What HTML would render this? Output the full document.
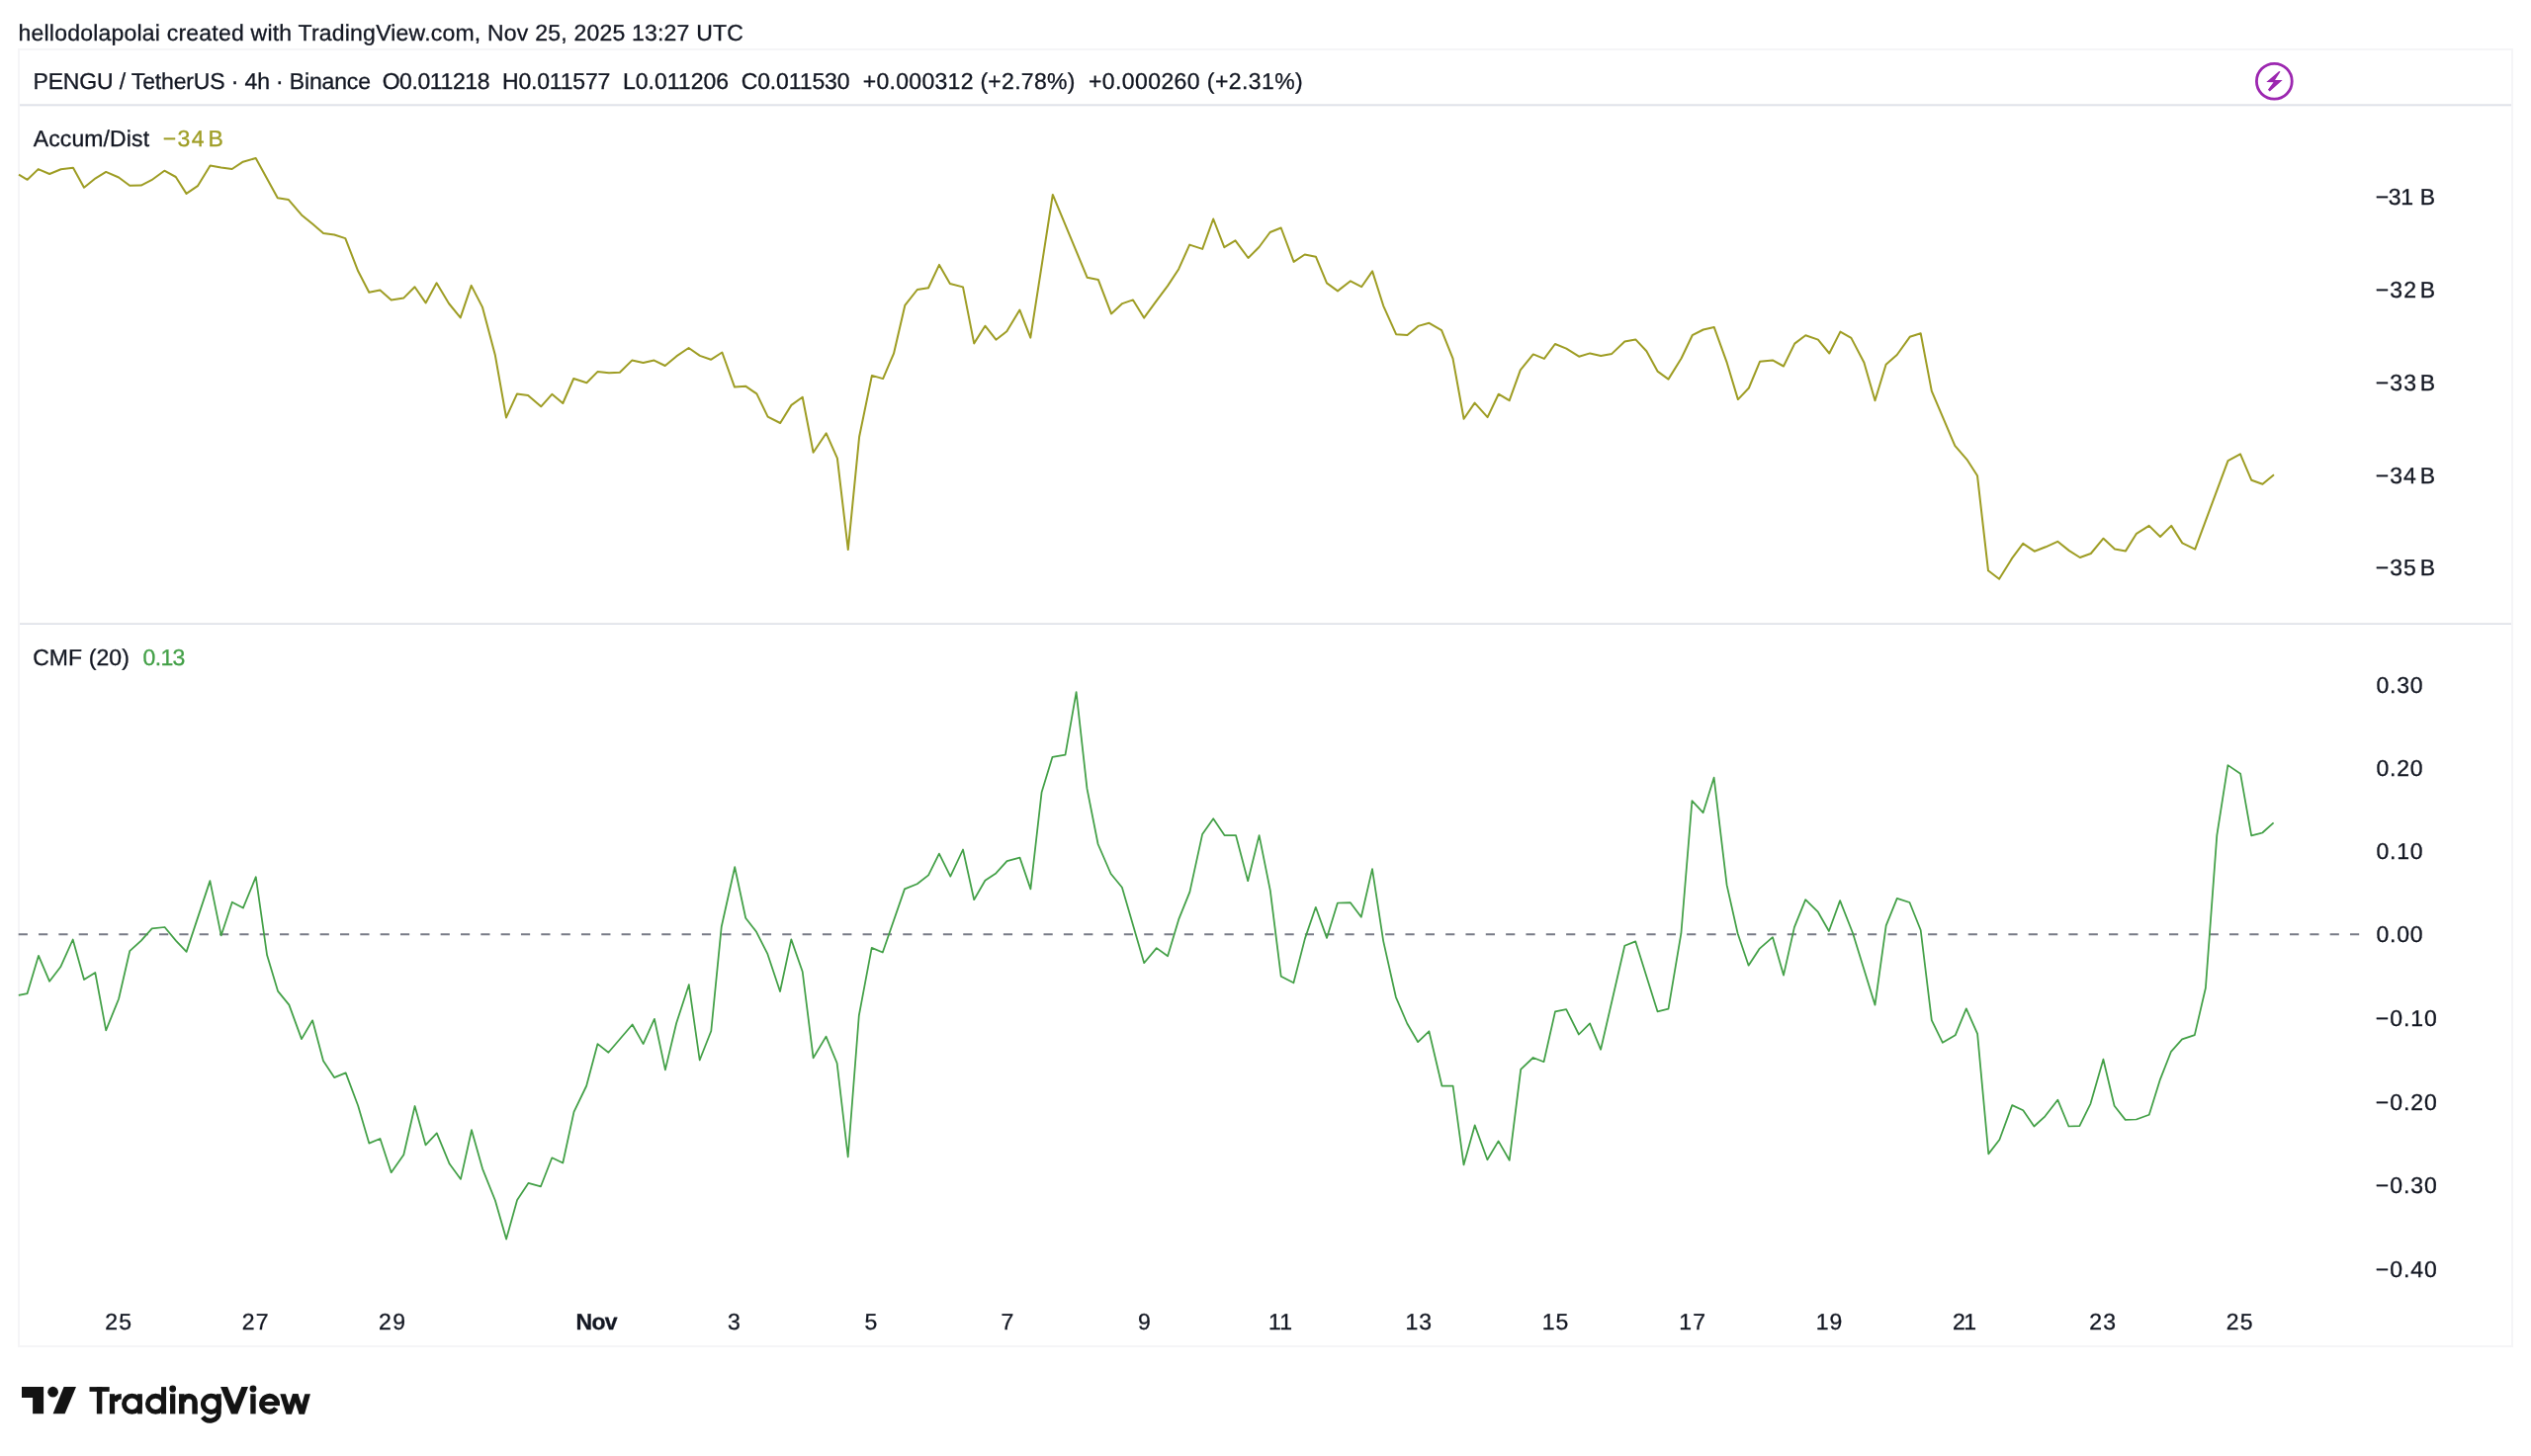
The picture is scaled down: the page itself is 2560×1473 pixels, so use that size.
<!DOCTYPE html>
<html><head><meta charset="utf-8"><title>PENGU / TetherUS chart</title>
<style>
html,body{margin:0;padding:0;background:#fff;}
body{width:2560px;height:1473px;position:relative;overflow:hidden;font-family:"Liberation Sans",sans-serif;}
.t{position:absolute;line-height:1;white-space:pre;text-rendering:geometricPrecision;-webkit-text-stroke:0.3px currentColor;}
#tx{position:absolute;left:0;top:0;width:2560px;height:1473px;will-change:transform;}
.box{position:absolute;left:18px;top:49px;width:2520px;height:1310px;border:2px solid #f5f5f7;}
.hl{position:absolute;left:20px;width:2520px;height:2px;background:#e0e3eb;}
svg{position:absolute;left:0;top:0;}
</style></head><body>
<div class="box"></div>
<div class="hl" style="top:105px;height:1px;background:#e9eaee"></div>
<div class="hl" style="top:106px;height:1px;background:#dfe2ea"></div>
<div class="hl" style="top:107px;height:1px;background:#f6f6f7"></div>
<div class="hl" style="top:630px;height:1px;background:#e9eaed"></div>
<div class="hl" style="top:631px;height:1px;background:#dfe2ea"></div>

<svg width="2560" height="1473" viewBox="0 0 2560 1473">
<line x1="18.7" y1="945.35" x2="2388" y2="945.35" stroke="#787b86" stroke-width="2" stroke-dasharray="9.2 11.13"/>
<polyline fill="none" stroke="#9e9d24" stroke-width="2" stroke-linejoin="round" points="19.0,176.7 27.7,181.8 38.7,171.1 50.1,176.0 61.6,171.3 74.0,169.7 85.0,189.7 96.7,180.3 107.2,173.9 120.1,179.5 131.2,187.8 142.7,187.6 153.3,182.2 166.3,172.7 177.8,179.0 188.5,195.9 199.9,188.2 212.6,167.5 223.6,169.6 234.7,171.0 245.8,163.7 258.7,160.0 280.8,200.2 291.9,202.1 305.0,217.4 316.1,226.6 327.1,235.9 338.2,237.5 349.3,241.1 362.2,274.3 373.3,295.8 384.4,293.6 395.7,303.4 408.4,301.4 419.5,290.3 430.6,306.4 441.6,286.3 454.0,307.0 465.7,321.4 476.7,288.9 487.9,310.6 500.9,359.6 512.0,422.4 523.0,398.4 534.1,399.9 547.2,411.3 558.3,398.8 569.3,408.0 580.2,383.0 593.4,387.3 604.4,376.1 616.0,377.3 626.9,376.7 639.2,364.6 650.6,367.0 661.6,364.6 672.7,370.0 684.2,360.4 696.6,352.0 707.9,359.9 719.0,363.8 730.4,356.5 743.0,391.6 754.1,390.7 765.4,398.4 776.6,421.6 789.2,428.0 800.4,409.9 811.7,401.7 822.6,457.8 835.7,438.3 846.9,463.7 857.8,556.1 869.1,442.0 881.9,379.9 893.1,383.1 904.0,357.7 915.3,308.9 927.8,293.0 939.0,291.2 950.0,267.9 960.9,287.0 974.0,290.4 985.2,347.4 996.4,329.7 1007.4,343.7 1018.3,335.3 1031.4,313.6 1042.3,341.6 1064.8,196.9 1099.7,280.8 1110.9,283.1 1124.0,317.4 1135.2,307.1 1146.0,303.4 1157.1,321.6 1168.4,306.1 1181.1,289.1 1192.2,272.2 1203.2,247.6 1216.2,251.9 1227.2,221.5 1238.3,250.2 1249.5,243.4 1262.5,261.0 1273.5,250.0 1284.6,235.0 1295.7,230.5 1308.6,264.9 1319.7,257.5 1330.9,259.7 1342.0,286.4 1353.0,294.4 1366.0,284.3 1377.1,290.2 1388.1,274.4 1399.2,309.3 1412.1,338.2 1423.4,339.1 1434.4,329.9 1445.5,326.8 1458.1,334.1 1469.5,362.6 1480.6,423.7 1491.6,407.6 1504.6,422.1 1515.7,398.7 1526.7,405.2 1537.8,374.4 1550.8,358.4 1561.9,362.9 1572.9,348.0 1584.3,352.7 1597.1,360.7 1608.2,357.4 1619.2,359.9 1630.3,357.9 1643.3,345.5 1654.3,343.4 1665.4,355.3 1676.5,375.6 1687.5,383.6 1700.6,362.5 1711.7,339.2 1722.8,333.5 1733.8,331.1 1746.8,367.2 1757.9,404.1 1768.9,392.5 1780.0,365.8 1792.9,364.4 1804.0,370.5 1815.2,347.6 1826.3,339.3 1838.9,343.6 1850.3,357.5 1861.4,335.6 1872.4,341.9 1885.4,366.7 1896.5,405.2 1907.6,368.7 1918.7,359.0 1931.7,340.8 1942.7,337.3 1953.8,395.6 1977.3,450.8 1989.4,464.8 2000.0,481.2 2011.0,577.3 2022.1,585.8 2035.2,564.6 2046.2,549.9 2057.7,557.7 2069.2,553.3 2081.2,547.8 2092.9,557.1 2103.8,564.0 2114.8,560.0 2127.5,544.7 2139.0,555.6 2150.0,557.4 2161.0,539.8 2173.7,531.9 2185.0,543.0 2196.2,531.9 2207.3,549.4 2220.2,555.6 2253.5,466.2 2266.0,459.4 2277.3,485.8 2288.5,489.8 2300.0,480.2"/>
<polyline fill="none" stroke="#43a047" stroke-width="1.75" stroke-linejoin="round" points="18.8,1006.9 27.6,1005.1 39.0,966.8 50.1,992.8 61.2,978.3 73.7,950.5 85.0,991.1 96.3,984.0 107.2,1042.4 120.1,1010.5 131.2,962.2 142.8,951.6 153.7,939.3 166.6,938.0 177.9,951.6 188.6,962.9 212.4,891.1 223.7,946.4 234.8,912.7 245.9,918.6 258.8,887.2 270.1,966.3 281.0,1002.6 292.4,1016.6 305.0,1051.1 316.1,1032.3 327.0,1073.3 338.1,1090.1 349.7,1085.4 362.2,1118.8 373.3,1156.6 384.5,1152.0 395.7,1186.2 408.3,1168.3 419.6,1119.0 430.5,1158.3 441.8,1146.4 454.7,1177.6 466.0,1192.9 477.0,1143.2 488.0,1182.3 500.9,1214.5 512.1,1253.6 523.1,1213.9 534.4,1196.9 547.0,1200.3 558.3,1171.3 569.3,1176.5 580.5,1124.9 593.2,1098.5 604.5,1056.1 615.4,1064.8 639.6,1036.5 650.6,1056.1 661.9,1030.8 672.9,1082.4 684.1,1035.3 696.8,996.2 707.7,1072.5 719.3,1043.0 729.7,937.8 743.2,877.2 754.2,928.7 765.1,942.8 776.4,965.2 789.0,1003.0 800.3,950.4 811.7,983.0 822.6,1070.3 835.5,1048.6 846.6,1075.5 857.7,1170.5 868.8,1027.5 881.7,958.9 892.8,963.5 915.0,899.4 927.7,894.2 939.1,885.4 949.9,863.6 961.3,886.7 974.0,859.5 985.2,910.2 996.4,890.7 1007.4,883.4 1018.5,871.1 1031.5,867.6 1042.4,899.4 1053.6,801.4 1064.5,765.8 1077.5,763.7 1088.6,700.1 1099.5,797.9 1110.6,854.0 1123.6,884.0 1134.9,897.8 1157.2,974.2 1169.8,959.1 1181.1,967.3 1192.2,930.2 1203.4,902.4 1216.1,844.1 1227.2,828.2 1238.5,845.0 1250.0,845.0 1262.2,891.2 1273.6,845.1 1284.8,900.8 1295.7,987.7 1308.4,994.3 1319.9,949.6 1330.8,917.8 1342.0,948.9 1352.9,913.5 1365.9,913.2 1376.8,927.8 1388.0,879.1 1399.2,952.1 1411.9,1008.8 1423.3,1035.5 1434.2,1054.2 1445.4,1043.3 1458.4,1098.5 1469.6,1098.5 1480.5,1178.4 1491.7,1138.4 1504.4,1173.3 1515.6,1154.4 1526.7,1173.8 1538.2,1081.8 1550.7,1070.0 1561.5,1074.2 1573.0,1023.4 1584.2,1021.1 1596.9,1046.5 1608.1,1035.4 1619.1,1061.8 1643.3,956.8 1654.3,952.4 1676.5,1023.3 1687.5,1020.7 1700.4,944.2 1711.4,810.2 1722.6,822.2 1733.6,786.7 1746.6,895.4 1757.6,944.2 1768.6,976.7 1779.8,959.6 1793.0,948.2 1804.0,986.6 1814.9,938.1 1826.2,910.2 1838.9,922.7 1849.9,942.0 1861.1,911.1 1874.1,944.2 1896.5,1016.7 1907.7,936.3 1918.8,908.9 1931.5,913.0 1942.7,941.0 1953.8,1032.1 1964.9,1054.8 1977.7,1047.3 1988.8,1020.4 2000.1,1045.9 2011.3,1167.4 2022.4,1153.0 2035.2,1118.1 2046.3,1123.3 2057.4,1139.5 2068.5,1129.3 2081.3,1112.7 2092.4,1139.5 2103.4,1139.2 2114.5,1116.6 2127.4,1071.7 2138.6,1118.8 2149.7,1132.9 2160.8,1132.5 2173.8,1127.8 2184.9,1092.1 2196.0,1063.8 2207.1,1051.4 2219.8,1047.1 2230.9,999.5 2242.3,845.1 2253.4,774.1 2266.1,782.7 2277.2,845.4 2288.3,842.5 2299.6,832.4"/>
<circle cx="2300.33" cy="82.24" r="17.9" fill="none" stroke="#9c27b0" stroke-width="2.8"/>
<path d="M2305.2 72.1 L2292.3 82.95 L2299.55 83.15 L2293.9 90.8 L2295.8 92.5 L2308.65 81.1 L2301.05 80.95 L2306.5 72.6 Z" fill="#9c27b0"/>
<path d="M22 1403.1H44.1V1430.3H33.1V1414.1H22Z" fill="#131313"/>
<circle cx="53.6" cy="1408.2" r="5.35" fill="#131313"/>
<path d="M64.6 1403.1H77L65.6 1430.3H53.6Z" fill="#131313"/>
<g id="wordmark" aria-label="TradingView"><rect x="90.50" y="1403.10" width="20.16" height="4.75" fill="#131313"/>
<rect x="97.85" y="1403.10" width="5.46" height="27.28" fill="#131313"/>
<rect x="110.89" y="1410.22" width="5.22" height="20.16" fill="#131313"/>
<path d="M115.9 1417.6 Q117.2 1412.7 122.75 1412.7" fill="none" stroke="#131313" stroke-width="5.4"/>
<circle cx="133.55" cy="1420.28" r="8.08" fill="none" stroke="#131313" stroke-width="4.80"/>
<rect x="139.10" y="1410.22" width="4.75" height="20.16" fill="#131313"/>
<circle cx="157.45" cy="1420.35" r="8.08" fill="none" stroke="#131313" stroke-width="4.80"/>
<rect x="163.05" y="1403.10" width="4.98" height="27.28" fill="#131313"/>
<rect x="172.06" y="1410.22" width="5.22" height="20.16" fill="#131313"/>
<circle cx="174.67" cy="1405.0" r="3.4" fill="#131313"/>
<rect x="181.07" y="1410.22" width="5.45" height="20.16" fill="#131313"/>
<path d="M197.07 1430.38 V1418.6 A5.97 6.1 0 0 0 185.1 1418.6" fill="none" stroke="#131313" stroke-width="5.45"/>
<circle cx="213.54" cy="1420.28" r="8.15" fill="none" stroke="#131313" stroke-width="4.90"/>
<path d="M221.25 1410.22 V1429.43 A8.77 7.68 0 0 1 205.1 1433.6" fill="none" stroke="#131313" stroke-width="5.0"/>
<polygon points="223.03,1403.10 230.14,1403.10 237.20,1421.10 244.36,1403.10 251.00,1403.10 240.33,1430.38 233.93,1430.38" fill="#131313"/>
<rect x="253.33" y="1410.22" width="5.30" height="20.16" fill="#131313"/>
<circle cx="255.98" cy="1405.0" r="3.4" fill="#131313"/>
<path d="M279.25 1424.61 A7.95 7.95 0 1 1 280.45 1421.39" fill="none" stroke="#131313" stroke-width="5.0"/>
<rect x="267.00" y="1418.05" width="16.00" height="4.03" fill="#131313"/>
<polygon points="283.29,1410.22 288.89,1410.22 295.05,1430.38 289.45,1430.38" fill="#131313"/>
<polygon points="289.45,1430.38 295.05,1430.38 301.55,1410.22 295.95,1410.22" fill="#131313"/>
<polygon points="295.95,1410.22 301.55,1410.22 308.09,1430.38 302.49,1430.38" fill="#131313"/>
<polygon points="302.49,1430.38 308.09,1430.38 313.92,1410.22 308.32,1410.22" fill="#131313"/></g>
</svg>
<div id="tx">
<div class="t" style="left:18.54px;top:21.65px;font-size:23.0px;color:#131722;letter-spacing:0.212px;">hellodolapolai created with TradingView.com, Nov 25, 2025 13:27 UTC</div>
<div class="t" style="left:33.46px;top:71.30px;font-size:23.0px;color:#131722;letter-spacing:-0.149px;">PENGU / TetherUS · 4h · Binance</div>
<div class="t" style="left:386.64px;top:71.30px;font-size:23.0px;color:#131722;letter-spacing:-0.41px;">O0.011218</div>
<div class="t" style="left:507.96px;top:71.30px;font-size:23.0px;color:#131722;letter-spacing:-0.174px;">H0.011577</div>
<div class="t" style="left:629.96px;top:71.30px;font-size:23.0px;color:#131722;letter-spacing:0.006px;">L0.011206</div>
<div class="t" style="left:749.69px;top:71.30px;font-size:23.0px;color:#131722;letter-spacing:-0.124px;">C0.011530</div>
<div class="t" style="left:872.84px;top:71.30px;font-size:23.0px;color:#131722;letter-spacing:0.283px;">+0.000312 (+2.78%)</div>
<div class="t" style="left:1100.94px;top:71.30px;font-size:23.0px;color:#131722;letter-spacing:0.414px;">+0.000260 (+2.31%)</div>
<div class="t" style="left:33.79px;top:128.65px;font-size:23.0px;color:#131722;letter-spacing:0.109px;">Accum/Dist</div>
<div class="t" style="left:164.83px;top:128.65px;font-size:23.0px;color:#9e9d24;letter-spacing:1.304px;">−34</div>
<div class="t" style="left:210.46px;top:128.65px;font-size:23.0px;color:#9e9d24;">B</div>
<div class="t" style="left:33.19px;top:653.65px;font-size:23.0px;color:#131722;letter-spacing:0.07px;">CMF (20)</div>
<div class="t" style="left:144.59px;top:653.65px;font-size:23.0px;color:#43a047;letter-spacing:-0.686px;">0.13</div>
<div class="t" style="left:2402.83px;top:187.65px;font-size:23.0px;color:#131722;letter-spacing:-0.456px;">−31</div>
<div class="t" style="left:2447.86px;top:187.65px;font-size:23.0px;color:#131722;">B</div>
<div class="t" style="left:2402.83px;top:281.60px;font-size:23.0px;color:#131722;letter-spacing:1.083px;">−32</div>
<div class="t" style="left:2447.86px;top:281.60px;font-size:23.0px;color:#131722;">B</div>
<div class="t" style="left:2402.83px;top:375.55px;font-size:23.0px;color:#131722;letter-spacing:1.078px;">−33</div>
<div class="t" style="left:2447.86px;top:375.55px;font-size:23.0px;color:#131722;">B</div>
<div class="t" style="left:2402.83px;top:469.50px;font-size:23.0px;color:#131722;letter-spacing:0.979px;">−34</div>
<div class="t" style="left:2447.86px;top:469.50px;font-size:23.0px;color:#131722;">B</div>
<div class="t" style="left:2402.83px;top:563.45px;font-size:23.0px;color:#131722;letter-spacing:0.967px;">−35</div>
<div class="t" style="left:2447.86px;top:563.45px;font-size:23.0px;color:#131722;">B</div>
<div class="t" style="left:2403.59px;top:682.40px;font-size:23.0px;color:#131722;letter-spacing:0.704px;">0.30</div>
<div class="t" style="left:2403.59px;top:766.40px;font-size:23.0px;color:#131722;letter-spacing:0.704px;">0.20</div>
<div class="t" style="left:2403.59px;top:850.40px;font-size:23.0px;color:#131722;letter-spacing:0.704px;">0.10</div>
<div class="t" style="left:2403.59px;top:934.40px;font-size:23.0px;color:#131722;letter-spacing:0.704px;">0.00</div>
<div class="t" style="left:2402.83px;top:1018.95px;font-size:23.0px;color:#131722;letter-spacing:0.918px;">−0.10</div>
<div class="t" style="left:2402.83px;top:1103.55px;font-size:23.0px;color:#131722;letter-spacing:0.918px;">−0.20</div>
<div class="t" style="left:2402.83px;top:1188.15px;font-size:23.0px;color:#131722;letter-spacing:0.918px;">−0.30</div>
<div class="t" style="left:2402.83px;top:1272.70px;font-size:23.0px;color:#131722;letter-spacing:0.918px;">−0.40</div>
<div class="t" style="left:106.25px;top:1326.05px;font-size:23.0px;color:#131722;letter-spacing:1.129px;">25</div>
<div class="t" style="left:244.67px;top:1326.05px;font-size:23.0px;color:#131722;letter-spacing:1.261px;">27</div>
<div class="t" style="left:383.09px;top:1326.05px;font-size:23.0px;color:#131722;letter-spacing:1.376px;">29</div>
<div class="t" style="left:582.52px;top:1326.05px;font-size:23.0px;color:#131722;font-weight:700;letter-spacing:-0.696px;">Nov</div>
<div class="t" style="left:735.99px;top:1326.05px;font-size:23.0px;color:#131722;">3</div>
<div class="t" style="left:874.39px;top:1326.05px;font-size:23.0px;color:#131722;">5</div>
<div class="t" style="left:1012.62px;top:1326.05px;font-size:23.0px;color:#131722;">7</div>
<div class="t" style="left:1151.04px;top:1326.05px;font-size:23.0px;color:#131722;">9</div>
<div class="t" style="left:1282.98px;top:1326.05px;font-size:23.0px;color:#131722;letter-spacing:0.215px;">11</div>
<div class="t" style="left:1421.40px;top:1326.05px;font-size:23.0px;color:#131722;letter-spacing:1.108px;">13</div>
<div class="t" style="left:1559.82px;top:1326.05px;font-size:23.0px;color:#131722;letter-spacing:1.009px;">15</div>
<div class="t" style="left:1698.24px;top:1326.05px;font-size:23.0px;color:#131722;letter-spacing:1.133px;">17</div>
<div class="t" style="left:1836.66px;top:1326.05px;font-size:23.0px;color:#131722;letter-spacing:1.078px;">19</div>
<div class="t" style="left:1974.92px;top:1326.05px;font-size:23.0px;color:#131722;letter-spacing:-1.492px;">21</div>
<div class="t" style="left:2113.34px;top:1326.05px;font-size:23.0px;color:#131722;letter-spacing:1.228px;">23</div>
<div class="t" style="left:2251.76px;top:1326.05px;font-size:23.0px;color:#131722;letter-spacing:1.129px;">25</div>
<div class="t" style="left:90px;top:1398px;font-size:39.5px;font-weight:700;color:transparent;-webkit-text-stroke:0;letter-spacing:-1.2px">TradingView</div>
</div>
</body></html>
